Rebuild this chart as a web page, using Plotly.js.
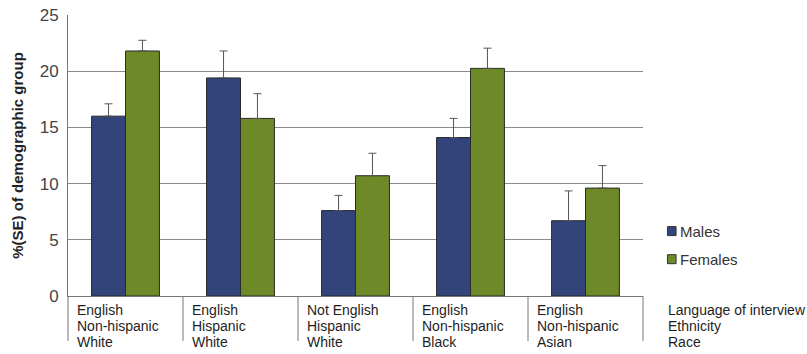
<!DOCTYPE html>
<html>
<head>
<meta charset="utf-8">
<script src="https://cdn.plot.ly/plotly-3.0.1.min.js"></script>
<style>
  html, body { margin: 0; padding: 0; background: #fff; }
  #chart { width: 807px; height: 354px; }
</style>
</head>
<body>
<div id="chart"></div>
<script>
// Group labels: language of interview / ethnicity / race
const language = ["English", "English", "Not English", "English", "English"];
const ethnicity = ["Non-hispanic", "Hispanic", "Hispanic", "Non-hispanic", "Non-hispanic"];
const race = ["White", "White", "White", "Black", "Asian"];
const rowTitles = ["Language of interview", "Ethnicity", "Race"];

// Percent of demographic group, with standard error (drawn upward only)
const malesPct = [16.0, 19.4, 7.6, 14.1, 6.7];
const malesSE = [1.1, 2.4, 1.35, 1.7, 2.65];
const femalesPct = [21.8, 15.8, 10.7, 20.25, 9.6];
const femalesSE = [0.95, 2.2, 2.0, 1.8, 2.0];

const seriesNames = ["Males", "Females"];
const seriesColors = ["#33447a", "#6e8a28"];

const xs = language.map((_, i) => i);
const zeros = xs.map(() => 0);

function barTrace(name, values, se, color) {
  return {
    type: "bar",
    name: name,
    x: xs,
    y: values,
    marker: { color: color, line: { color: "#2a2a2a", width: 1 } },
    error_y: {
      type: "data", symmetric: false, array: se, arrayminus: zeros,
      color: "#555", thickness: 1, width: 4
    },
    hoverinfo: "skip"
  };
}

const traces = [
  barTrace(seriesNames[0], malesPct, malesSE, seriesColors[0]),
  barTrace(seriesNames[1], femalesPct, femalesSE, seriesColors[1])
];

const n = xs.length;
const boxDepth = -0.16;   // how far the label box reaches below the axis (paper units)
const shapes = [];
const annotations = [];
const labelFont = { family: "Liberation Sans, Arial, sans-serif", size: 14, color: "#1e1e1e" };
const rowY = [-0.05, -0.106, -0.163];

// Vertical dividers of the label box under the axis
for (let i = 0; i <= n; i++) {
  shapes.push({
    type: "line", xref: "paper", yref: "paper",
    x0: i / n, x1: i / n, y0: 0, y1: boxDepth,
    line: { color: "#777", width: 1 }
  });
}

// Three-line category labels
const rows = [language, ethnicity, race];
rows.forEach((row, r) => {
  row.forEach((txt, i) => {
    annotations.push({
      xref: "x", yref: "paper", x: xs[i] - 0.5, y: rowY[r],
      xanchor: "left", yanchor: "middle", xshift: 7,
      text: txt, showarrow: false, font: labelFont
    });
  });
  annotations.push({
    xref: "paper", yref: "paper", x: 1.04, y: rowY[r],
    xanchor: "left", yanchor: "middle",
    text: rowTitles[r], showarrow: false, font: labelFont
  });
});

// Legend: small outlined swatch plus name
const legendY = [0.231, 0.131];
seriesNames.forEach((name, k) => {
  shapes.push({
    type: "rect", xref: "paper", yref: "paper",
    x0: 1.0425, x1: 1.0575,
    y0: legendY[k] - 0.016, y1: legendY[k] + 0.016,
    fillcolor: seriesColors[k], line: { color: "#333", width: 1 }
  });
  annotations.push({
    xref: "paper", yref: "paper", x: 1.06, y: legendY[k],
    xanchor: "left", yanchor: "middle",
    text: name, showarrow: false,
    font: { family: "Liberation Sans, Arial, sans-serif", size: 15, color: "#333" }
  });
});

const layout = {
  width: 807, height: 354,
  margin: { l: 68, r: 164, t: 15, b: 58, pad: 0 },
  paper_bgcolor: "#fff", plot_bgcolor: "#fff",
  barmode: "group", bargap: 0.41, bargroupgap: 0,
  showlegend: false,
  font: { family: "Liberation Sans, Arial, sans-serif", color: "#333" },
  xaxis: {
    range: [-0.5, n - 0.5], showticklabels: false, ticks: "",
    showgrid: false, zeroline: false,
    showline: true, linecolor: "#777", linewidth: 1
  },
  yaxis: {
    range: [0, 25], tickvals: [0, 5, 10, 15, 20, 25],
    showgrid: true, gridcolor: "#8a8a8a", gridwidth: 1,
    zeroline: false, showline: true, linecolor: "#777", linewidth: 1,
    ticks: "", ticklabelstandoff: 5,
    tickfont: { size: 17, color: "#444" },
    title: {
      text: "<b>%(SE) of demographic group</b>",
      font: { size: 15, color: "#222" }, standoff: 12
    }
  },
  shapes: shapes,
  annotations: annotations
};

Plotly.newPlot("chart", traces, layout, { displayModeBar: false, staticPlot: true });
</script>
</body>
</html>
